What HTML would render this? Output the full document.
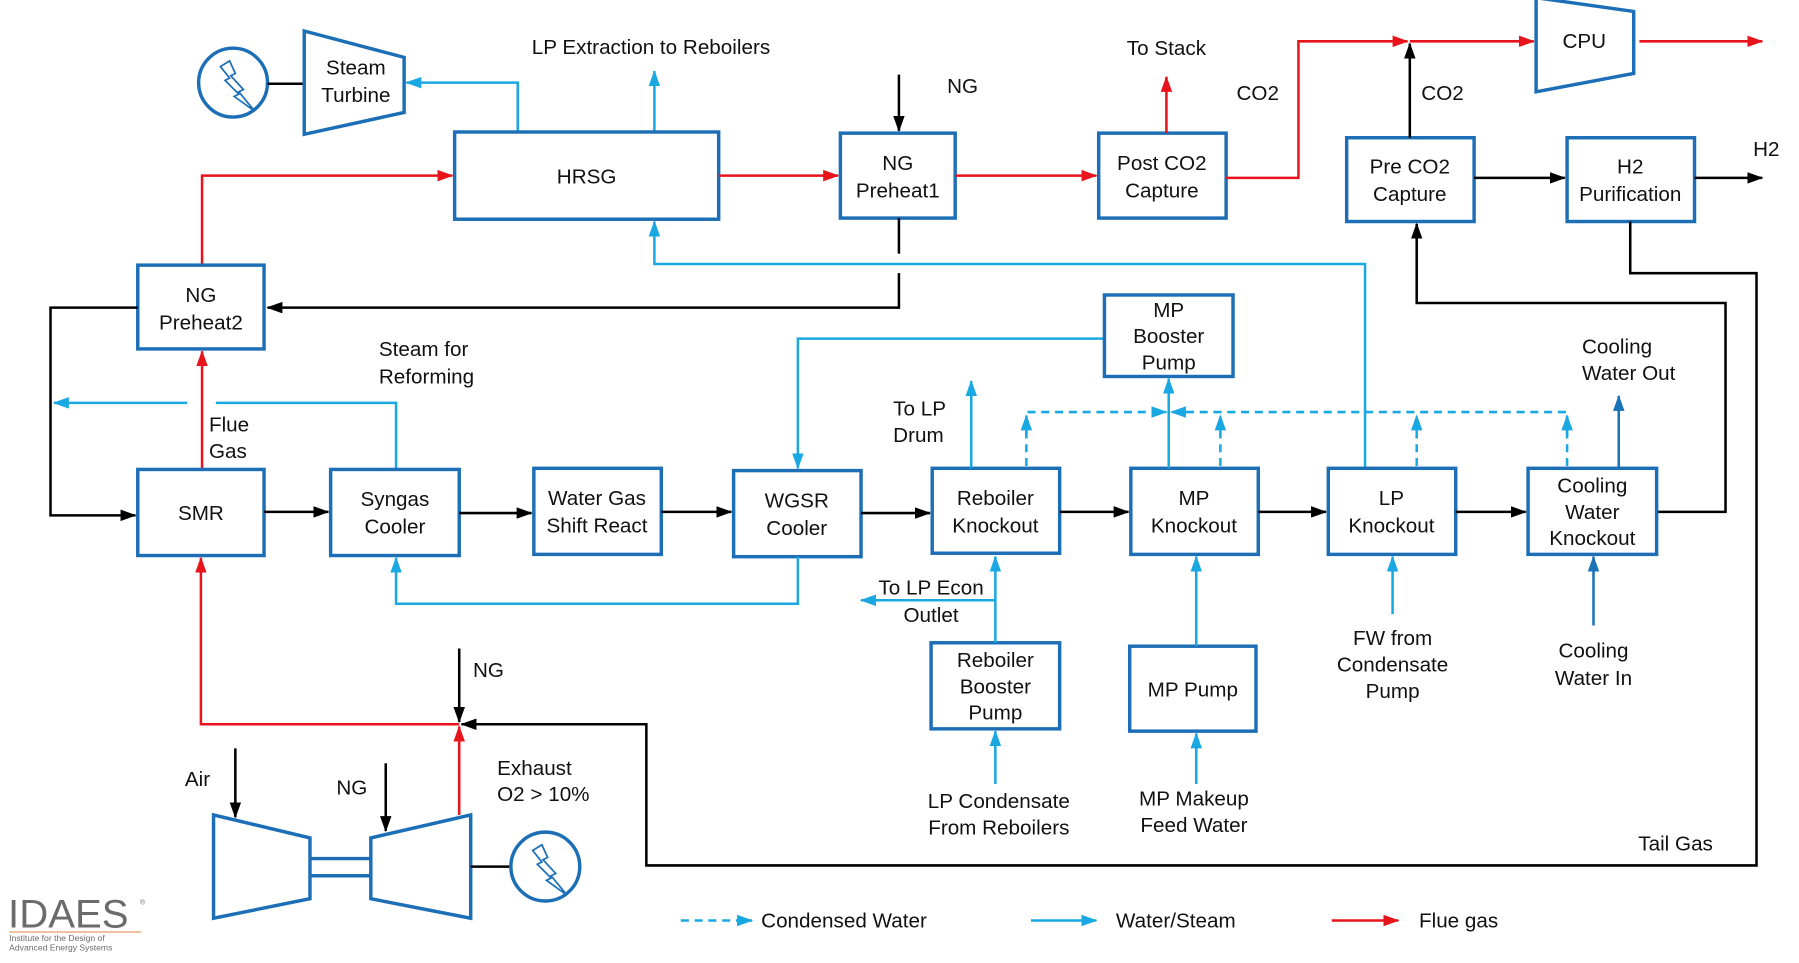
<!DOCTYPE html>
<html><head><meta charset="utf-8"><style>
html,body{margin:0;padding:0;background:#fff;}
svg{display:block;}
text{font-family:"Liberation Sans",Arial,sans-serif;font-size:18px;fill:#111;}
.b{fill:#fff;stroke:#1c6fb6;stroke-width:3;}
.c{stroke:#1aa8e2;stroke-width:2.2;fill:none;}
.cd{stroke:#1aa8e2;stroke-width:2.2;fill:none;stroke-dasharray:7,5;}
.r{stroke:#e8141c;stroke-width:2.2;fill:none;}
.k{stroke:#000;stroke-width:2.2;fill:none;}
.db{stroke:#1a72b8;stroke-width:2.2;fill:none;}
</style></head><body>
<svg width="1799" height="963" viewBox="0 0 1567 839" preserveAspectRatio="none" xmlns="http://www.w3.org/2000/svg">
<defs>
<marker id="ar" markerWidth="14" markerHeight="10" refX="13" refY="5" orient="auto" markerUnits="userSpaceOnUse" viewBox="0 0 14 10"><path d="M0,0L14,5L0,10z" fill="#e8141c"/></marker>
<marker id="ak" markerWidth="14" markerHeight="10" refX="13" refY="5" orient="auto" markerUnits="userSpaceOnUse" viewBox="0 0 14 10"><path d="M0,0L14,5L0,10z" fill="#000"/></marker>
<marker id="ad" markerWidth="14" markerHeight="10" refX="13" refY="5" orient="auto" markerUnits="userSpaceOnUse" viewBox="0 0 14 10"><path d="M0,0L14,5L0,10z" fill="#1a72b8"/></marker>
<marker id="acl" markerWidth="14" markerHeight="10" refX="13" refY="5" orient="auto" markerUnits="userSpaceOnUse" viewBox="0 0 14 10"><path d="M0,0L14,5L0,10z" fill="#1aa8e2"/></marker>
</defs>

<circle cx="203" cy="72" r="30" fill="#fff" stroke="#1c6fb6" stroke-width="3"/>
<path d="M192,58 L200,53 L205,64 L201,66 L212,78 L208,80 L222,97 L204,84 L208,82 L196,70 L200,68 Z" fill="none" stroke="#1c6fb6" stroke-width="1.5"/>
<line x1="233" y1="73" x2="265" y2="73" class="k"/>
<polygon points="265,27 352,50 352,98 265,117" class="b"/>
<text x="310" y="65" text-anchor="middle">Steam</text>
<text x="310" y="89" text-anchor="middle">Turbine</text>
<polyline points="451,115 451,72 354,72" class="c" marker-end="url(#acl)"/>
<line x1="570" y1="115" x2="570" y2="62" class="c" marker-end="url(#acl)"/>
<text x="567" y="47" text-anchor="middle">LP Extraction to Reboilers</text>

<rect x="396" y="115" width="230" height="76" class="b"/>
<text x="511" y="160" text-anchor="middle">HRSG</text>
<polyline points="176,230 176,153 394,153" class="r" marker-end="url(#ar)"/>
<line x1="626" y1="153" x2="730" y2="153" class="r" marker-end="url(#ar)"/>

<rect x="732" y="116" width="100" height="74" class="b"/>
<text x="782" y="148" text-anchor="middle">NG</text>
<text x="782" y="172" text-anchor="middle">Preheat1</text>
<line x1="783" y1="65" x2="783" y2="114" class="k" marker-end="url(#ak)"/>
<text x="825" y="81">NG</text>
<line x1="832" y1="153" x2="955" y2="153" class="r" marker-end="url(#ar)"/>

<rect x="957" y="116" width="111" height="74" class="b"/>
<text x="1012" y="148" text-anchor="middle">Post CO2</text>
<text x="1012" y="172" text-anchor="middle">Capture</text>
<line x1="1016" y1="116" x2="1016" y2="67" class="r" marker-end="url(#ar)"/>
<text x="1016" y="48" text-anchor="middle">To Stack</text>
<polyline points="1068,155 1131,155 1131,36 1226,36" class="r" marker-end="url(#ar)"/>
<line x1="1228" y1="36" x2="1336" y2="36" class="r" marker-end="url(#ar)"/>
<text x="1077" y="87">CO2</text>

<polygon points="1338,-2 1423,10 1423,64 1338,80" class="b"/>
<text x="1380" y="42" text-anchor="middle">CPU</text>
<line x1="1428" y1="36" x2="1535" y2="36" class="r" marker-end="url(#ar)"/>

<rect x="1173" y="120" width="111" height="73" class="b"/>
<text x="1228" y="151" text-anchor="middle">Pre CO2</text>
<text x="1228" y="175" text-anchor="middle">Capture</text>
<line x1="1228" y1="120" x2="1228" y2="38" class="k" marker-end="url(#ak)"/>
<text x="1238" y="87">CO2</text>
<line x1="1284" y1="155" x2="1363" y2="155" class="k" marker-end="url(#ak)"/>
<rect x="1365" y="120" width="111" height="73" class="b"/>
<text x="1420" y="151" text-anchor="middle">H2</text>
<text x="1420" y="175" text-anchor="middle">Purification</text>
<line x1="1476" y1="155" x2="1535" y2="155" class="k" marker-end="url(#ak)"/>
<text x="1527" y="136">H2</text>
<polyline points="1420,193 1420,238 1530,238 1530,754 563,754 563,631 402,631" class="k" marker-end="url(#ak)"/>
<text x="1427" y="741">Tail Gas</text>
<polyline points="1443,446 1503,446 1503,264 1234,264 1234,195" class="k" marker-end="url(#ak)"/>

<line x1="783" y1="190" x2="783" y2="221" class="k"/>
<polyline points="783,238 783,268 233,268" class="k" marker-end="url(#ak)"/>
<polyline points="1189,408 1189,230 570,230 570,193" class="c" marker-end="url(#acl)"/>

<rect x="120" y="231" width="110" height="73" class="b"/>
<text x="175" y="263" text-anchor="middle">NG</text>
<text x="175" y="287" text-anchor="middle">Preheat2</text>
<polyline points="120,268 44,268 44,449 118,449" class="k" marker-end="url(#ak)"/>
<line x1="163" y1="351" x2="47" y2="351" class="c" marker-end="url(#acl)"/>
<polyline points="345,408 345,351 188,351" class="c"/>
<text x="330" y="310">Steam for</text>
<text x="330" y="334">Reforming</text>
<line x1="176" y1="408" x2="176" y2="306" class="r" marker-end="url(#ar)"/>
<text x="182" y="376">Flue</text>
<text x="182" y="399">Gas</text>

<rect x="120" y="409" width="110" height="75" class="b"/>
<text x="175" y="453" text-anchor="middle">SMR</text>
<line x1="230" y1="446" x2="286" y2="446" class="k" marker-end="url(#ak)"/>
<rect x="288" y="409" width="112" height="75" class="b"/>
<text x="344" y="441" text-anchor="middle">Syngas</text>
<text x="344" y="465" text-anchor="middle">Cooler</text>
<line x1="400" y1="447" x2="463" y2="447" class="k" marker-end="url(#ak)"/>
<rect x="465" y="408" width="111" height="75" class="b"/>
<text x="520" y="440" text-anchor="middle">Water Gas</text>
<text x="520" y="464" text-anchor="middle">Shift React</text>
<line x1="576" y1="446" x2="637" y2="446" class="k" marker-end="url(#ak)"/>
<rect x="639" y="410" width="111" height="75" class="b"/>
<text x="694" y="442" text-anchor="middle">WGSR</text>
<text x="694" y="466" text-anchor="middle">Cooler</text>
<line x1="750" y1="447" x2="810" y2="447" class="k" marker-end="url(#ak)"/>
<polyline points="962,295 695,295 695,408" class="c" marker-end="url(#acl)"/>
<polyline points="695,485 695,526 345,526 345,486" class="c" marker-end="url(#acl)"/>

<rect x="812" y="408" width="111" height="74" class="b"/>
<text x="867" y="440" text-anchor="middle">Reboiler</text>
<text x="867" y="464" text-anchor="middle">Knockout</text>
<line x1="846" y1="408" x2="846" y2="332" class="c" marker-end="url(#acl)"/>
<text x="778" y="362">To LP</text>
<text x="778" y="385">Drum</text>
<line x1="923" y1="446" x2="983" y2="446" class="k" marker-end="url(#ak)"/>

<rect x="962" y="257" width="112" height="71" class="b"/>
<text x="1018" y="276" text-anchor="middle">MP</text>
<text x="1018" y="299" text-anchor="middle">Booster</text>
<text x="1018" y="322" text-anchor="middle">Pump</text>

<rect x="985" y="408" width="111" height="75" class="b"/>
<text x="1040" y="440" text-anchor="middle">MP</text>
<text x="1040" y="464" text-anchor="middle">Knockout</text>
<line x1="1018" y1="408" x2="1018" y2="330" class="c" marker-end="url(#acl)"/>
<line x1="1096" y1="446" x2="1155" y2="446" class="k" marker-end="url(#ak)"/>

<polyline points="894,406 894,359 1016,359" class="cd" marker-end="url(#acl)"/>
<polyline points="1365,406 1365,359 1020,359" class="cd" marker-end="url(#acl)"/>
<line x1="894" y1="380" x2="894" y2="362" class="c" marker-end="url(#acl)"/>
<line x1="1063" y1="406" x2="1063" y2="362" class="cd" marker-end="url(#acl)"/>
<line x1="1234" y1="406" x2="1234" y2="362" class="cd" marker-end="url(#acl)"/>
<line x1="1365" y1="380" x2="1365" y2="362" class="c" marker-end="url(#acl)"/>

<rect x="1157" y="408" width="111" height="75" class="b"/>
<text x="1212" y="440" text-anchor="middle">LP</text>
<text x="1212" y="464" text-anchor="middle">Knockout</text>
<line x1="1268" y1="446" x2="1329" y2="446" class="k" marker-end="url(#ak)"/>

<rect x="1331" y="408" width="112" height="75" class="b"/>
<text x="1387" y="429" text-anchor="middle">Cooling</text>
<text x="1387" y="452" text-anchor="middle">Water</text>
<text x="1387" y="475" text-anchor="middle">Knockout</text>
<line x1="1410" y1="408" x2="1410" y2="345" class="db" marker-end="url(#ad)"/>
<text x="1378" y="308">Cooling</text>
<text x="1378" y="331">Water Out</text>

<rect x="811" y="560" width="112" height="75" class="b"/>
<text x="867" y="581" text-anchor="middle">Reboiler</text>
<text x="867" y="604" text-anchor="middle">Booster</text>
<text x="867" y="627" text-anchor="middle">Pump</text>
<line x1="867" y1="560" x2="867" y2="485" class="c" marker-end="url(#acl)"/>
<polyline points="867,523 750,523" class="c" marker-end="url(#acl)"/>
<text x="811" y="518" text-anchor="middle">To LP Econ</text>
<text x="811" y="542" text-anchor="middle">Outlet</text>
<line x1="867" y1="683" x2="867" y2="637" class="c" marker-end="url(#acl)"/>
<text x="870" y="704" text-anchor="middle">LP Condensate</text>
<text x="870" y="727" text-anchor="middle">From Reboilers</text>

<rect x="984" y="563" width="110" height="74" class="b"/>
<text x="1039" y="607" text-anchor="middle">MP Pump</text>
<line x1="1042" y1="563" x2="1042" y2="485" class="c" marker-end="url(#acl)"/>
<line x1="1042" y1="683" x2="1042" y2="639" class="c" marker-end="url(#acl)"/>
<text x="1040" y="702" text-anchor="middle">MP Makeup</text>
<text x="1040" y="725" text-anchor="middle">Feed Water</text>

<line x1="1213" y1="535" x2="1213" y2="485" class="c" marker-end="url(#acl)"/>
<text x="1213" y="562" text-anchor="middle">FW from</text>
<text x="1213" y="585" text-anchor="middle">Condensate</text>
<text x="1213" y="608" text-anchor="middle">Pump</text>
<line x1="1388" y1="545" x2="1388" y2="485" class="db" marker-end="url(#ad)"/>
<text x="1388" y="573" text-anchor="middle">Cooling</text>
<text x="1388" y="597" text-anchor="middle">Water In</text>

<polyline points="400,631 175,631 175,486" class="r" marker-end="url(#ar)"/>
<line x1="400" y1="710" x2="400" y2="633" class="r" marker-end="url(#ar)"/>
<line x1="400" y1="565" x2="400" y2="629" class="k" marker-end="url(#ak)"/>
<text x="412" y="590">NG</text>
<text x="433" y="675">Exhaust</text>
<text x="433" y="698">O2 &gt; 10%</text>
<polygon points="186,710 270,730 270,783 186,800" class="b"/>
<polygon points="323,730 410,710 410,800 323,783" class="b"/>
<line x1="270" y1="748" x2="323" y2="748" stroke="#1c6fb6" stroke-width="3"/>
<line x1="270" y1="763" x2="323" y2="763" stroke="#1c6fb6" stroke-width="3"/>
<line x1="205" y1="652" x2="205" y2="712" class="k" marker-end="url(#ak)"/>
<text x="161" y="685">Air</text>
<line x1="336" y1="665" x2="336" y2="724" class="k" marker-end="url(#ak)"/>
<text x="293" y="692">NG</text>
<line x1="410" y1="755" x2="445" y2="755" class="k"/>
<circle cx="475" cy="755" r="30" fill="#fff" stroke="#1c6fb6" stroke-width="3"/>
<path d="M464,741 L472,736 L477,747 L473,749 L484,761 L480,763 L494,780 L476,767 L480,765 L468,753 L472,751 Z" fill="none" stroke="#1c6fb6" stroke-width="1.5"/>

<line x1="593" y1="802" x2="655" y2="802" class="cd" marker-end="url(#acl)"/>
<text x="663" y="808">Condensed Water</text>
<line x1="898" y1="802" x2="955" y2="802" class="c" marker-end="url(#acl)"/>
<text x="972" y="808">Water/Steam</text>
<line x1="1160" y1="802" x2="1218" y2="802" class="r" marker-end="url(#ar)"/>
<text x="1236" y="808">Flue gas</text>

<text x="7" y="808" style="font-size:35px;fill:#6b6b6b;">IDAES</text>
<text x="122" y="788" style="font-size:6px;fill:#6b6b6b;">®</text>
<line x1="8" y1="812" x2="123" y2="812" stroke="#e89a6a" stroke-width="1"/>
<text x="8" y="820" style="font-size:7.5px;fill:#6b6b6b;">Institute for the Design of</text>
<text x="8" y="828" style="font-size:7.5px;fill:#6b6b6b;">Advanced Energy Systems</text>
</svg>
</body></html>
